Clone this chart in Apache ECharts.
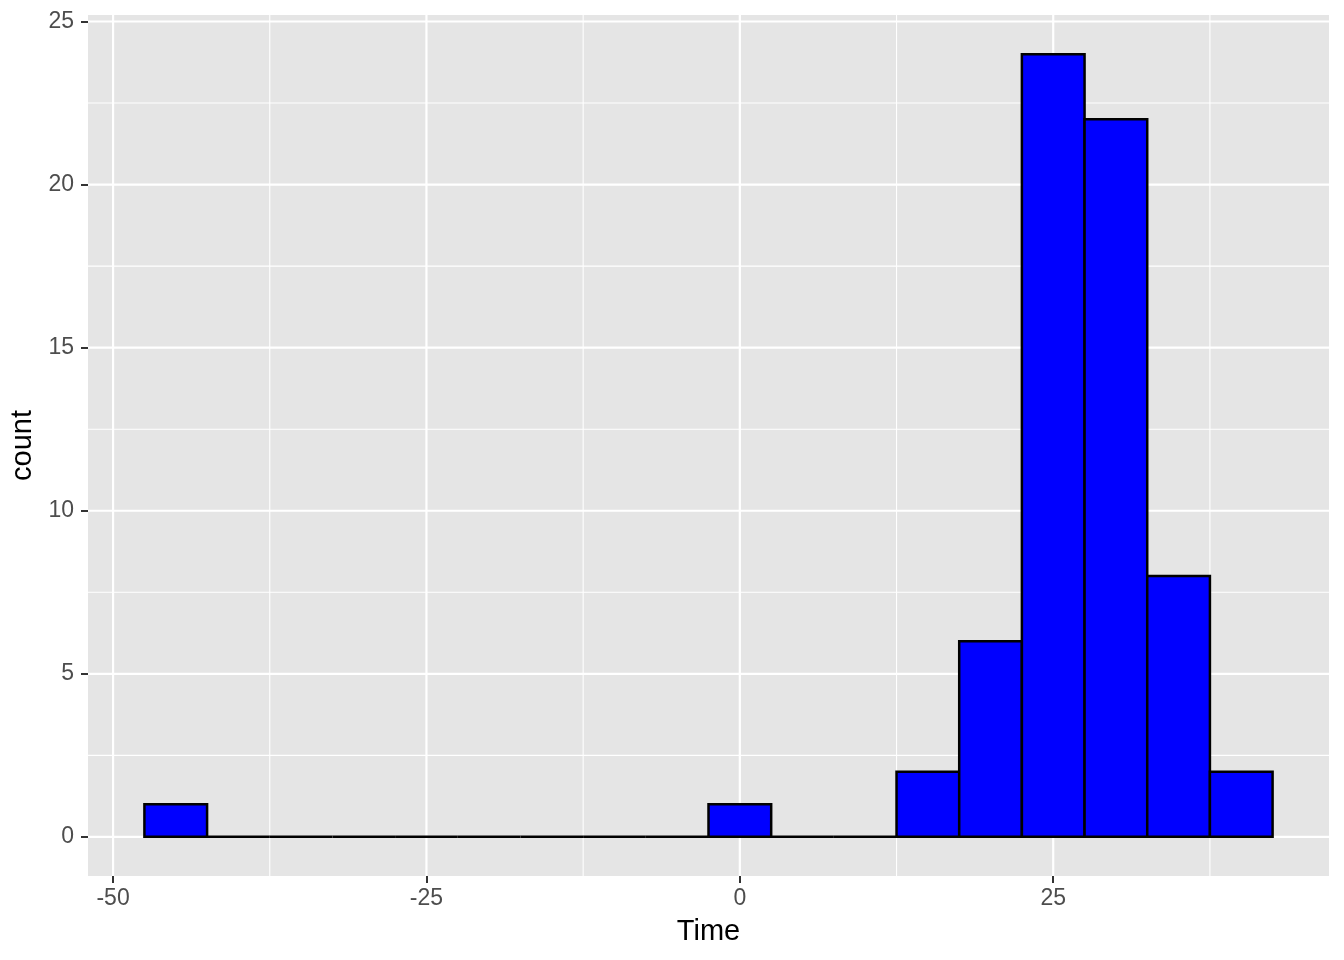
<!DOCTYPE html>
<html>
<head>
<meta charset="utf-8">
<script src="https://cdn.jsdelivr.net/npm/echarts@6/dist/echarts.min.js"></script>
<style>html,body{margin:0;padding:0;background:#fff}#c{width:1344px;height:960px}</style>
</head>
<body>
<div id="c"></div>
<script>
// Histogram bins (binwidth 5), left edges, right edges and counts
var binStart = [-47.5,-42.5,-37.5,-32.5,-27.5,-22.5,-17.5,-12.5,-7.5,-2.5,2.5,7.5,12.5,17.5,22.5,27.5,32.5,37.5];
var binEnd   = [-42.5,-37.5,-32.5,-27.5,-22.5,-17.5,-12.5,-7.5,-2.5,2.5,7.5,12.5,17.5,22.5,27.5,32.5,37.5,42.5];
var counts   = [1,0,0,0,0,0,0,0,0,1,0,0,2,6,24,22,8,2];
// Axis ticks
var xTicks = [-50,-25,0,25];
var xMinor = [-37.5,-12.5,12.5,37.5];
var yTicks = [0,5,10,15,20,25];
var yMinor = [2.5,7.5,12.5,17.5,22.5];

var bins = binStart.map(function(s,i){return [s, binEnd[i], counts[i]];});

var gridLines = [];
xTicks.forEach(function(v){gridLines.push(['x', v, 'major']);});
xMinor.forEach(function(v){gridLines.push(['x', v, 'minor']);});
yTicks.forEach(function(v){gridLines.push(['y', v, 'major']);});
yMinor.forEach(function(v){gridLines.push(['y', v, 'minor']);});

var FONT = 'Liberation Sans, Arial, sans-serif';
var chart = echarts.init(document.getElementById('c'), null, {renderer:'canvas'});
chart.setOption({
  animation:false,
  backgroundColor:'#ffffff',
  grid:{left:88, right:15, top:15, bottom:84, show:true, backgroundColor:'#E5E5E5', borderWidth:0},
  xAxis:{
    type:'value', min:-52, max:47,
    axisLine:{show:false, onZero:false},
    splitLine:{show:false},
    axisTick:{show:true, customValues:xTicks, length:7, lineStyle:{color:'#333333', width:2}},
    axisLabel:{customValues:xTicks, color:'#4D4D4D', fontSize:23, fontFamily:FONT, margin:11},
    name:'Time', nameLocation:'middle', nameGap:41,
    nameTextStyle:{color:'#000', fontSize:29, fontFamily:FONT}
  },
  yAxis:{
    type:'value', min:-1.2, max:25.2,
    axisLine:{show:false, onZero:false},
    splitLine:{show:false},
    axisTick:{show:true, customValues:yTicks, length:7, lineStyle:{color:'#333333', width:2}},
    axisLabel:{customValues:yTicks, color:'#4D4D4D', fontSize:23, fontFamily:FONT, margin:14},
    name:'count', nameLocation:'middle', nameGap:51, nameMoveOverlap:false,
    nameTextStyle:{color:'#000', fontSize:29, fontFamily:FONT}
  },
  series:[
    {
      type:'custom', silent:true, z:1,
      data:gridLines,
      renderItem:function(params, api){
        var d = gridLines[params.dataIndex];
        var cs = params.coordSys;
        var w = d[2]==='major' ? 2.2 : 1.1;
        var shape;
        if(d[0]==='x'){
          var px = api.coord([d[1], 0])[0];
          shape = {x1:px, y1:cs.y, x2:px, y2:cs.y+cs.height};
        } else {
          var py = api.coord([0, d[1]])[1];
          shape = {x1:cs.x, y1:py, x2:cs.x+cs.width, y2:py};
        }
        return {type:'line', shape:shape, style:{stroke:'#ffffff', lineWidth:w}};
      }
    },
    {
      type:'custom', z:2,
      data:bins,
      encode:{x:[0,1], y:2},
      renderItem:function(params, api){
        var p0 = api.coord([api.value(0), api.value(2)]);
        var p1 = api.coord([api.value(1), 0]);
        return {type:'rect', shape:{x:p0[0], y:p0[1], width:p1[0]-p0[0], height:p1[1]-p0[1]},
          style:{fill:'#0000FF', stroke:'#000000', lineWidth:2.5}};
      }
    }
  ]
});
</script>
</body>
</html>
